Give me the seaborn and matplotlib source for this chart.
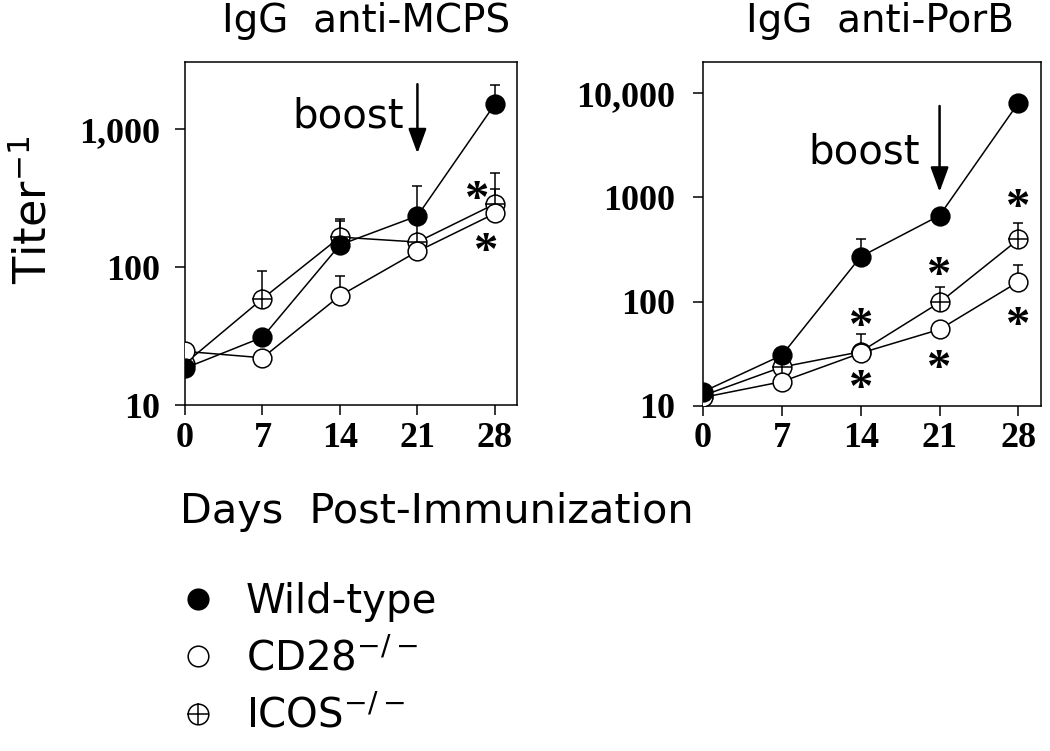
import numpy as np
import matplotlib
matplotlib.use("Agg")
import matplotlib.pyplot as plt
import seaborn as sns
from matplotlib.lines import Line2D

days = [0, 7, 14, 21, 28]

# IgG anti-MCPS
mcps_wt = [18.5, 31, 145, 235, 1520]
mcps_cd28 = [24.5, 22, 62, 130, 245]
mcps_icos = [20, 59, 165, 152, 287]
mcps_wt_top = [np.nan, np.nan, 215, 390, 2100]
mcps_cd28_top = [np.nan, np.nan, 86, np.nan, 370]
mcps_icos_top = [np.nan, 93, 222, 220, 480]
mcps_star_x = [26.4, 27.2]
mcps_star_y = [361, 152]
mcps_yticks = [10, 100, 1000]
mcps_ylabels = ["10", "100", "1,000"]

# IgG anti-PorB
porb_wt = [13.6, 30.5, 270, 670, 8100]
porb_cd28 = [12, 17, 32, 54, 155]
porb_icos = [12.5, 23.5, 33, 98, 395]
porb_wt_top = [np.nan, np.nan, 395, np.nan, np.nan]
porb_cd28_top = [np.nan, np.nan, np.nan, np.nan, 225]
porb_icos_top = [np.nan, np.nan, 49, 139, 565]
porb_star_x = [14, 14, 21, 21, 28, 28]
porb_star_y = [71, 18.1, 220, 28.2, 994, 73]
porb_yticks = [10, 100, 1000, 10000]
porb_ylabels = ["10", "100", "1000", "10,000"]

groups = ["Wild-type", "CD28$^{-/-}$", "ICOS$^{-/-}$"]

sns.set_style("ticks", {"axes.edgecolor": "black", "xtick.color": "black",
                        "ytick.color": "black", "text.color": "black"})
plt.rcParams["font.family"] = ["DejaVu Sans"]

MS = 13.5
MEW = 1.1
STAR = 35
tick_font = dict(fontfamily="Liberation Serif", fontweight="bold", fontsize=26)


def errbars(ax, y, top):
    y = np.array(y, float)
    top = np.array(top, float)
    m = ~np.isnan(top)
    x = np.array(days)[m]
    ax.errorbar(x, y[m], yerr=[np.zeros(m.sum()), top[m] - y[m]], fmt="none",
                ecolor="black", elinewidth=1.1, capsize=3.5, capthick=1.1, zorder=2)


def draw_panel(ax, wt, cd28, icos, tops, stars, yticks, ylabels, ylim,
               title, title_x, boost_xy, arrow_y, ypad):
    ax.set_yscale("log")
    for y, top in zip([icos, cd28, wt], tops):
        errbars(ax, y, top)
    sns.lineplot(x=days, y=icos, ax=ax, color="black", lw=1.1, marker="o",
                 markersize=MS, markerfacecolor="white", markeredgecolor="black",
                 markeredgewidth=MEW, errorbar=None, zorder=3)
    ax.plot(days, icos, ls="none", marker="+", ms=MS + 1.5, mew=MEW,
            color="black", zorder=3.5)
    sns.lineplot(x=days, y=cd28, ax=ax, color="black", lw=1.1, marker="o",
                 markersize=MS, markerfacecolor="white", markeredgecolor="black",
                 markeredgewidth=MEW, errorbar=None, zorder=4)
    sns.lineplot(x=days, y=wt, ax=ax, color="black", lw=1.1, marker="o",
                 markersize=MS, markerfacecolor="black", markeredgecolor="black",
                 markeredgewidth=MEW, errorbar=None, zorder=5)

    # significance asterisks, glyph centred on the given point
    for sx, sy in zip(*stars):
        ax.annotate("*", xy=(sx, sy), xytext=(0, -0.47 * STAR), textcoords="offset points",
                    ha="center", va="baseline", fontsize=STAR,
                    fontfamily="Liberation Serif", fontweight="bold")

    ax.annotate("", xy=(21, arrow_y[1]), xytext=(21, arrow_y[0]),
                arrowprops=dict(arrowstyle="-|>,head_length=0.6,head_width=0.22",
                                color="black", lw=1.8, mutation_scale=25,
                                shrinkA=0, shrinkB=0))
    ax.text(boost_xy[0], boost_xy[1], "boost", ha="right", va="baseline", fontsize=29)

    ax.set_xlim(0, 30)
    ax.set_ylim(*ylim)
    ax.minorticks_off()
    ax.set_xticks(days, labels=[str(d) for d in days], **tick_font)
    ax.set_yticks(yticks, labels=ylabels, **tick_font)
    ax.tick_params(axis="both", direction="out", length=7, width=1.1)
    ax.tick_params(axis="x", pad=5)
    ax.tick_params(axis="y", pad=ypad)
    for s in ax.spines.values():
        s.set_visible(True)
        s.set_linewidth(1.1)
        s.set_color("black")
    ax.set_xlabel("")
    ax.set_ylabel("")
    ax.set_title(title, x=title_x, pad=21.5, fontsize=28)


fig = plt.figure(figsize=(10.5, 7.51), dpi=100)
ax1 = fig.add_axes([0.1762, 0.4607, 0.3162, 0.4567])
ax2 = fig.add_axes([0.6695, 0.4598, 0.3219, 0.4577])

draw_panel(ax1, mcps_wt, mcps_cd28, mcps_icos,
           [mcps_icos_top, mcps_cd28_top, mcps_wt_top],
           (mcps_star_x, mcps_star_y), mcps_yticks, mcps_ylabels, (10, 3070),
           "IgG  anti-MCPS", 0.545, (19.8, 1025), (2120, 667), 11)
draw_panel(ax2, porb_wt, porb_cd28, porb_icos,
           [porb_icos_top, porb_cd28_top, porb_wt_top],
           (porb_star_x, porb_star_y), porb_yticks, porb_ylabels, (10, 20000),
           "IgG  anti-PorB", 0.524, (19.26, 2113), (7550, 1130), 13)

fig.text(47 / 1050, 1 - 210 / 751, "Titer$^{-1}$", rotation=90,
         rotation_mode="anchor", ha="center", va="baseline", fontsize=32)
fig.text(180 / 1050, 1 - 523 / 751, "Days  Post-Immunization",
         ha="left", va="baseline", fontsize=29.8)

handles = [
    Line2D([], [], ls="none", marker="o", ms=MS, mfc="black", mec="black", mew=MEW),
    Line2D([], [], ls="none", marker="o", ms=MS, mfc="white", mec="black", mew=MEW),
    (Line2D([], [], ls="none", marker="o", ms=MS, mfc="white", mec="black", mew=MEW),
     Line2D([], [], ls="none", marker="+", ms=MS + 1.5, mec="black", mew=MEW)),
]
fig.legend(handles, groups, loc="upper left", bbox_to_anchor=(178 / 1050, 1 - 582 / 751),
           frameon=False, fontsize=29, handlelength=1.0, handletextpad=0.68,
           labelspacing=0.42, borderpad=0, borderaxespad=0, markerscale=1.1)

fig.savefig("out.png", dpi=100)
